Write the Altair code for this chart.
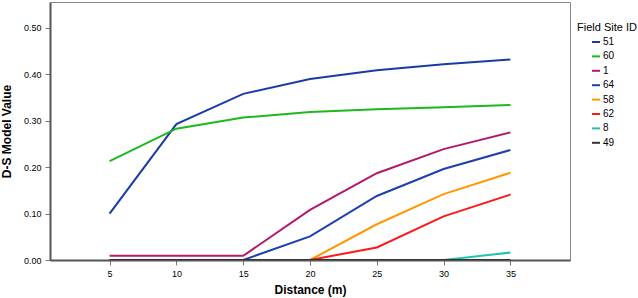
import altair as alt
import pandas as pd

distances = [5, 10, 15, 20, 25, 30, 35]
site_ids = ["51", "60", "1", "64", "58", "62", "8", "49"]
colors = ["#1a3aa6", "#1cb81c", "#b3186c", "#1e3fae", "#ff9800", "#ff1818", "#22c4b0", "#333333"]

v51 = [0.100, 0.293, 0.358, 0.390, 0.409, 0.422, 0.432]
v60 = [0.213, 0.283, 0.307, 0.319, 0.325, 0.329, 0.334]
v1 = [0.009, 0.009, 0.009, 0.108, 0.187, 0.239, 0.275]
v64 = [0.0, 0.0, 0.0, 0.051, 0.138, 0.196, 0.237]
v58 = [0.0, 0.0, 0.0, 0.0, 0.077, 0.142, 0.188]
v62 = [0.0, 0.0, 0.0, 0.0, 0.027, 0.094, 0.141]
v8 = [0.0, 0.0, 0.0, 0.0, 0.0, 0.0, 0.016]
v49 = [0.0, 0.0, 0.0, 0.0, 0.0, 0.0, 0.0]

series = [v51, v60, v1, v64, v58, v62, v8, v49]
rows = []
for order, (sid, vals) in enumerate(zip(site_ids, series)):
    for d, v in zip(distances, vals):
        rows.append({"site": sid, "order": order, "distance": d, "value": v})
df = pd.DataFrame(rows)

FONT = "Liberation Sans"

chart = (
    alt.Chart(df)
    .mark_line(strokeWidth=2, clip=True)
    .encode(
        x=alt.X(
            "distance:Q",
            title="Distance (m)",
            scale=alt.Scale(domain=[0.54, 39.46], nice=False, zero=False),
            axis=alt.Axis(values=distances, format="d", labelFlush=False, grid=False,
                          tickSize=5, labelPadding=4, titlePadding=6),
        ),
        y=alt.Y(
            "value:Q",
            title="D-S Model Value",
            scale=alt.Scale(domain=[0, 0.556], nice=False),
            axis=alt.Axis(values=[0, 0.1, 0.2, 0.3, 0.4, 0.5], format=".2f", grid=False,
                          tickSize=5, labelPadding=4, titlePadding=10, labelFlush=False),
        ),
        color=alt.Color(
            "site:N",
            title="Field Site ID",
            scale=alt.Scale(domain=site_ids, range=colors),
            sort=site_ids,
            legend=alt.Legend(
                orient="none", legendX=527, legendY=20,
                symbolType="stroke", symbolStrokeWidth=2, symbolSize=64,
                symbolOffset=14, labelFontSize=10, titleFontSize=11,
                titleFontWeight="normal", rowPadding=4.4, titlePadding=4,
                labelOffset=2,
            ),
        ),
        detail="site:N",
        order=alt.Order("order:Q"),
    )
    .properties(width=520, height=258, padding={"left": 50, "top": 2, "right": 68, "bottom": 38},
                autosize="none")
    .configure_view(stroke="#888888", strokeWidth=1)
    .configure_axis(
        domainColor="#555555", domainWidth=2, tickColor="#777777",
        labelFont=FONT, titleFont=FONT, labelFontSize=9, titleFontSize=12,
        labelColor="#000000", titleColor="#000000", titleFontWeight="bold",
    )
    .configure_legend(labelFont=FONT, titleFont=FONT, labelColor="#000000", titleColor="#000000")
)

chart.save("out.html", embed_options={"renderer": "svg", "actions": False})
